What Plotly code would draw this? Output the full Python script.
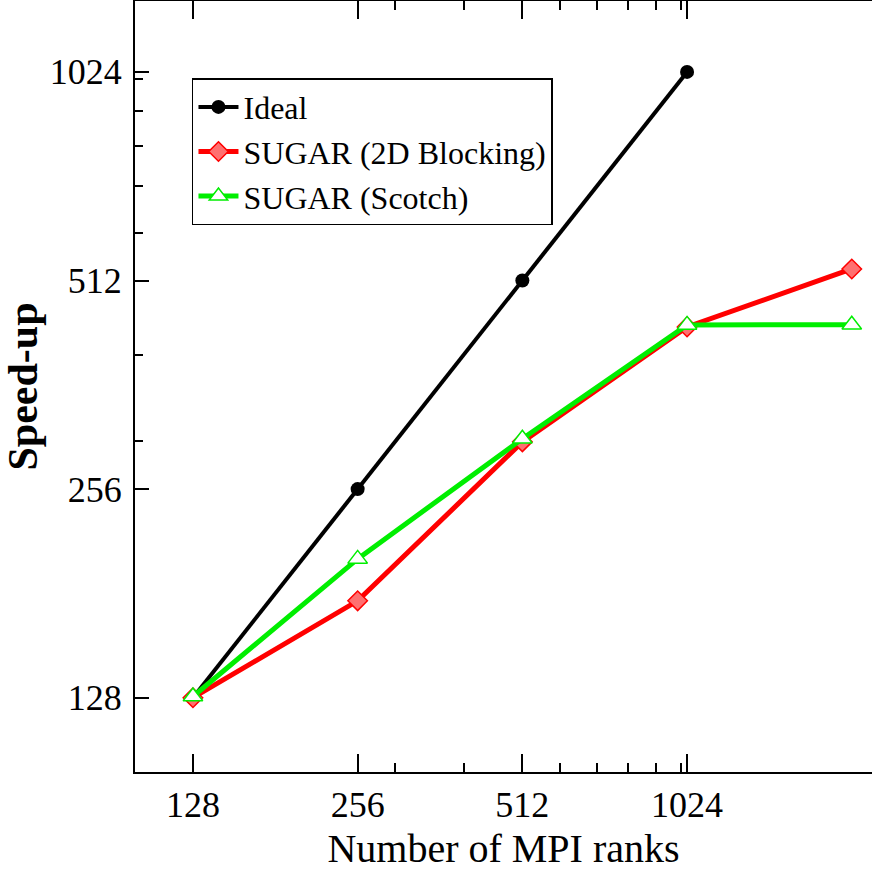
import math
import plotly.graph_objects as go

# ---- data ----
ranks = [128, 256, 512, 1024, 2048]
ideal_x = [128, 256, 512, 1024]
ideal_y = [128, 256, 512, 1024]
blocking_y = [128, 176.6, 299.5, 438.8, 532]
scotch_y = [128.5, 203, 302.6, 441.8, 442]
major_ticks = [128, 256, 512, 1024]
minor_ticks = [300, 400, 600, 700, 800, 900, 1000]

SERIF = "Liberation Serif, Times New Roman, serif"

fig = go.Figure()
fig.add_trace(go.Scatter(
    x=ideal_x, y=ideal_y, name="Ideal", mode="lines+markers",
    line=dict(color="black", width=4),
    marker=dict(symbol="circle", size=14, color="black"),
))
fig.add_trace(go.Scatter(
    x=ranks, y=blocking_y, name="SUGAR (2D Blocking)", mode="lines+markers",
    line=dict(color="#ff0000", width=5),
    marker=dict(symbol="diamond", size=15, color="#ff7070",
                line=dict(color="#ff0000", width=1.5)),
))
fig.add_trace(go.Scatter(
    x=ranks, y=scotch_y, name="SUGAR (Scotch)", mode="lines+markers",
    line=dict(color="#00ee00", width=5),
    marker=dict(symbol="triangle-up", size=17, color="white",
                line=dict(color="#00ee00", width=1.5)),
))

xr = [math.log10(100.3), math.log10(2230)]
yr = [math.log10(100), math.log10(1296)]

fig.update_layout(
    width=872, height=875,
    margin=dict(l=135, r=0, t=1, b=103),
    paper_bgcolor="white", plot_bgcolor="white",
    font=dict(family=SERIF, color="black"),
    showlegend=True,
    legend=dict(
        x=0.0773, y=0.900, xanchor="left", yanchor="top",
        bgcolor="white", bordercolor="black", borderwidth=1.5,
        font=dict(family=SERIF, size=32, color="black"),
        itemwidth=40, tracegroupgap=0,
    ),
    xaxis=dict(
        type="log", range=xr, showgrid=False, zeroline=False,
        showline=True, linecolor="black", linewidth=2, mirror="ticks",
        ticks="inside", ticklen=18, tickwidth=1.5, tickcolor="black",
        tickvals=major_ticks, ticktext=[str(v) for v in major_ticks],
        tickfont=dict(family=SERIF, size=36, color="black"),
        ticklabelstandoff=0,
        minor=dict(tickvals=minor_ticks, ticks="inside", ticklen=9,
                   tickwidth=1.5, tickcolor="black", showgrid=False),
        title=dict(text="Number of MPI ranks",
                   font=dict(family=SERIF, size=40, color="black"),
                   standoff=10),
        automargin=False,
    ),
    yaxis=dict(
        type="log", range=yr, showgrid=False, zeroline=False,
        showline=True, linecolor="black", linewidth=2,
        ticks="inside", ticklen=14, tickwidth=1.5, tickcolor="black",
        tickvals=major_ticks, ticktext=[str(v) for v in major_ticks],
        tickfont=dict(family=SERIF, size=36, color="black"),
        ticklabelstandoff=4,
        minor=dict(tickvals=minor_ticks, ticks="inside", ticklen=8,
                   tickwidth=1.5, tickcolor="black", showgrid=False),
        title=dict(text="<b>Speed-up</b>",
                   font=dict(family=SERIF, size=42, color="black"),
                   standoff=12),
        automargin=False,
    ),
    yaxis2=dict(
        type="log", range=yr, overlaying="y", side="right", anchor="x",
        showgrid=False, zeroline=False, showline=False,
        ticks="inside", ticklen=7, tickwidth=1.5, tickcolor="black",
        tickvals=major_ticks, showticklabels=False,
    ),
)

fig.write_html("out.html")
